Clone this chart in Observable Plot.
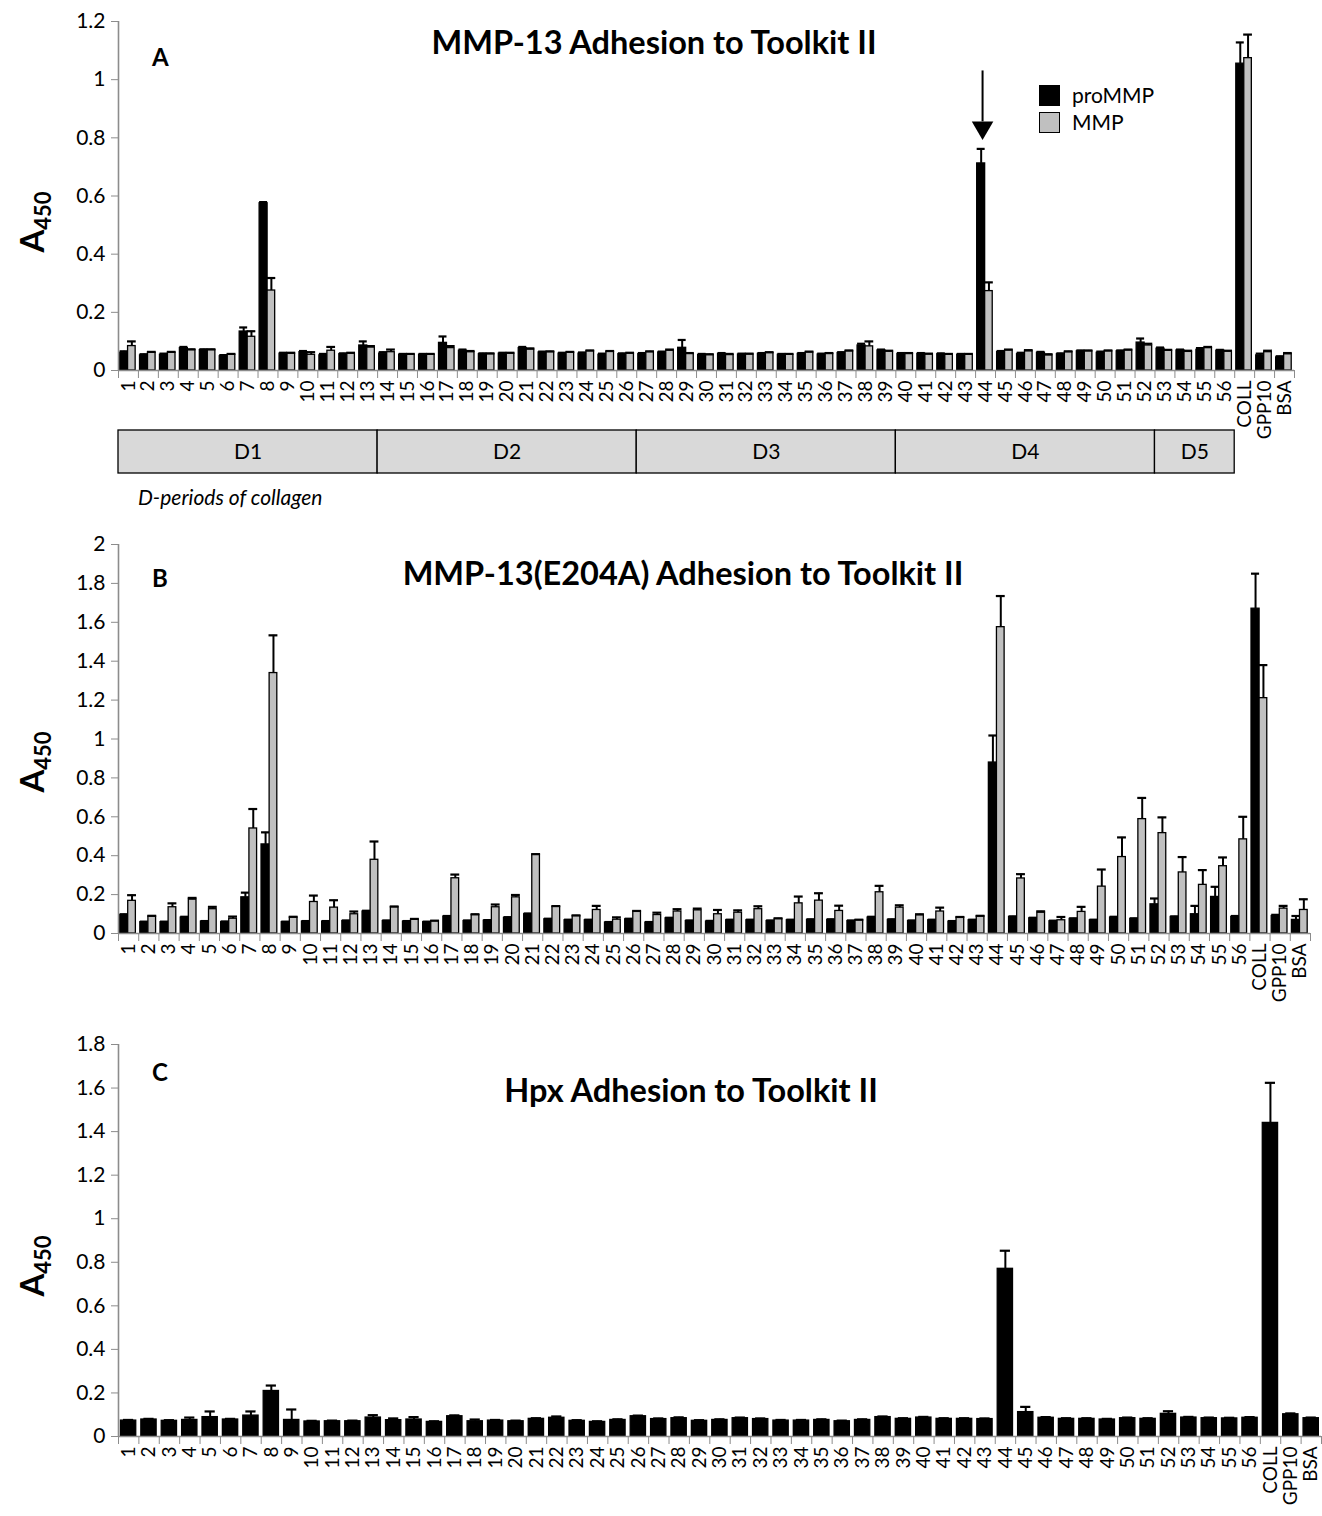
<!DOCTYPE html>
<html><head><meta charset="utf-8">
<script src="https://cdn.jsdelivr.net/npm/d3@7"></script>
<script src="https://cdn.jsdelivr.net/npm/@observablehq/plot@0.6"></script>
<style>
body{margin:0;background:#fff;}
#wrap{position:relative;width:1322px;height:1516px;font-family:Lato,"Open Sans",sans-serif;overflow:hidden;background:#fff}
#wrap svg{position:absolute;left:0;overflow:visible}
.t{position:absolute;white-space:nowrap;color:#000;line-height:1}
.yl{position:absolute;white-space:nowrap;font-weight:bold;font-size:33px;transform:translate(-50%,-50%) rotate(-90deg);line-height:1}
.yl sub{font-size:22px;vertical-align:-7px}
.sq{position:absolute;width:21px;height:21px;border:1.5px solid #000;box-sizing:border-box}
</style></head><body><div id="wrap"></div>
<script>
const cats = ["1","2","3","4","5","6","7","8","9","10","11","12","13","14","15","16","17","18","19","20",
"21","22","23","24","25","26","27","28","29","30","31","32","33","34","35","36","37","38","39","40",
"41","42","43","44","45","46","47","48","49","50","51","52","53","54","55","56","COLL","GPP10","BSA"];

// Panel A: MMP-13
const aPro = [0.061,0.052,0.054,0.077,0.070,0.049,0.134,0.575,0.058,0.063,0.052,0.056,0.086,0.058,0.054,0.054,0.095,0.068,0.056,0.058,
0.077,0.062,0.058,0.058,0.054,0.056,0.056,0.062,0.078,0.053,0.057,0.055,0.057,0.054,0.057,0.055,0.060,0.086,0.069,0.057,
0.057,0.056,0.054,0.712,0.063,0.056,0.061,0.056,0.066,0.061,0.066,0.096,0.075,0.069,0.071,0.068,1.055,0.052,0.045];
const aProErr = [0.005,0.004,0.004,0.004,0.003,0.004,0.014,0.004,0.003,0.004,0.005,0.003,0.014,0.005,0.003,0.003,0.022,0.004,0.003,0.003,
0.004,0.003,0.003,0.004,0.004,0.003,0.004,0.003,0.027,0.004,0.003,0.003,0.003,0.003,0.003,0.003,0.003,0.006,0.003,0.003,
0.003,0.003,0.003,0.050,0.004,0.005,0.003,0.003,0.003,0.004,0.003,0.014,0.004,0.003,0.006,0.003,0.073,0.006,0.004];
const aMmp = [0.084,0.061,0.061,0.070,0.070,0.054,0.116,0.275,0.058,0.054,0.068,0.058,0.079,0.063,0.054,0.054,0.077,0.063,0.056,0.058,
0.072,0.063,0.061,0.066,0.064,0.058,0.063,0.068,0.057,0.053,0.053,0.055,0.060,0.054,0.062,0.057,0.066,0.083,0.065,0.057,
0.055,0.054,0.054,0.273,0.069,0.066,0.052,0.063,0.066,0.066,0.069,0.086,0.068,0.064,0.077,0.065,1.074,0.063,0.056];
const aMmpErr = [0.016,0.003,0.003,0.003,0.003,0.003,0.019,0.043,0.003,0.009,0.013,0.003,0.005,0.009,0.003,0.003,0.007,0.004,0.003,0.003,
0.004,0.003,0.003,0.003,0.003,0.003,0.003,0.004,0.003,0.003,0.004,0.003,0.003,0.003,0.003,0.003,0.003,0.017,0.003,0.003,
0.003,0.003,0.003,0.030,0.003,0.004,0.004,0.003,0.003,0.003,0.003,0.006,0.003,0.004,0.004,0.003,0.081,0.005,0.004];

// Panel B: MMP-13(E204A)
const bPro = [0.095,0.058,0.058,0.082,0.061,0.058,0.186,0.458,0.058,0.061,0.061,0.064,0.113,0.064,0.061,0.058,0.087,0.064,0.066,0.080,
0.099,0.073,0.068,0.068,0.056,0.073,0.056,0.078,0.064,0.061,0.068,0.068,0.064,0.068,0.070,0.070,0.064,0.082,0.070,0.064,
0.068,0.061,0.068,0.879,0.085,0.078,0.063,0.075,0.068,0.082,0.075,0.150,0.085,0.099,0.188,0.085,1.670,0.090,0.070];
const bProErr = [0.004,0.003,0.003,0.004,0.003,0.004,0.024,0.062,0.003,0.003,0.003,0.003,0.004,0.003,0.003,0.003,0.003,0.003,0.003,0.004,
0.004,0.003,0.003,0.003,0.003,0.003,0.003,0.003,0.003,0.004,0.003,0.003,0.003,0.003,0.003,0.003,0.003,0.004,0.003,0.003,
0.003,0.003,0.003,0.139,0.003,0.003,0.003,0.003,0.003,0.004,0.003,0.030,0.003,0.043,0.052,0.005,0.180,0.006,0.020];
const bMmp = [0.168,0.087,0.135,0.174,0.125,0.076,0.540,1.339,0.082,0.162,0.133,0.099,0.379,0.135,0.071,0.063,0.284,0.095,0.135,0.186,
0.405,0.137,0.090,0.121,0.071,0.113,0.095,0.113,0.119,0.099,0.107,0.125,0.075,0.155,0.169,0.116,0.068,0.212,0.133,0.094,
0.113,0.082,0.088,1.575,0.283,0.107,0.068,0.111,0.241,0.393,0.588,0.516,0.314,0.250,0.346,0.484,1.210,0.128,0.121];
const bMmpErr = [0.029,0.004,0.020,0.009,0.012,0.011,0.100,0.194,0.004,0.033,0.038,0.014,0.094,0.004,0.004,0.003,0.019,0.004,0.014,0.012,
0.003,0.004,0.003,0.021,0.012,0.003,0.012,0.012,0.009,0.022,0.012,0.015,0.003,0.035,0.038,0.027,0.003,0.033,0.012,0.005,
0.020,0.003,0.003,0.160,0.022,0.007,0.017,0.026,0.088,0.101,0.109,0.081,0.079,0.076,0.045,0.116,0.170,0.014,0.055];

// Panel C: Hpx
const cHpx = [0.073,0.078,0.072,0.076,0.089,0.078,0.096,0.209,0.076,0.069,0.070,0.070,0.087,0.075,0.078,0.067,0.093,0.070,0.073,0.070,
0.081,0.086,0.072,0.067,0.076,0.093,0.080,0.084,0.072,0.076,0.084,0.080,0.073,0.073,0.076,0.070,0.076,0.089,0.081,0.087,
0.081,0.081,0.080,0.770,0.112,0.086,0.081,0.081,0.078,0.084,0.081,0.104,0.087,0.084,0.083,0.086,1.440,0.102,0.084];
const cHpxErr = [0.003,0.003,0.003,0.011,0.026,0.003,0.019,0.025,0.048,0.003,0.003,0.003,0.011,0.008,0.011,0.003,0.004,0.008,0.003,0.003,
0.003,0.006,0.003,0.003,0.003,0.003,0.003,0.004,0.003,0.003,0.003,0.003,0.003,0.003,0.003,0.003,0.003,0.003,0.003,0.003,
0.003,0.003,0.003,0.083,0.024,0.003,0.003,0.003,0.003,0.003,0.003,0.012,0.003,0.003,0.003,0.003,0.184,0.004,0.003];

const yTicksA = [0,0.2,0.4,0.6,0.8,1,1.2];
const yTicksB = [0,0.2,0.4,0.6,0.8,1,1.2,1.4,1.6,1.8,2];
const yTicksC = [0,0.2,0.4,0.6,0.8,1,1.2,1.4,1.6,1.8];

const dLabels = ["D1","D2","D3","D4","D5"];
const dStart = [0,13,26,39,52];
const dEnd = [13,26,39,52,56];

const arrowCat = "44";
const arrowFrom = 1.03, arrowTo = 0.815;

const fmt = d => d === 0 ? "0" : String(Math.round(d*10)/10);
const wrap = document.getElementById("wrap");

function seriesMarks(vals, errs, x1off, x2off, fill, capHalf) {
  const rows = cats.map((c,i)=>({i, v: vals[i], e: errs[i]}));
  const cx = (x1off + x2off)/2;
  return [
    Plot.rectY(rows, {x1: d=>d.i+x1off, x2: d=>d.i+x2off, y: "v", fill, stroke: "#000", strokeWidth: 1.3}),
    Plot.ruleX(rows, {x: d=>d.i+cx, y1: "v", y2: d=>d.v+d.e, stroke: "#000", strokeWidth: 2}),
    Plot.ruleY(rows, {y: d=>d.v+d.e, x1: d=>d.i+cx-capHalf, x2: d=>d.i+cx+capHalf, stroke: "#000", strokeWidth: 2.2})
  ];
}

function panel(o) {
  const n = cats.length;
  const marks = [
    ...o.series,
    Plot.ruleY([0], {stroke: "#8c8c8c", strokeWidth: 1.6}),
    Plot.ruleX([0], {stroke: "#8c8c8c", strokeWidth: 1.6}),
    Plot.axisY({ticks: o.yticks, tickSize: 7, tickPadding: 6, fontSize: 21, stroke: "#8c8c8c", tickFormat: fmt, label: null}),
    Plot.axisX({ticks: d3.range(0, n+1), tickSize: 8, stroke: "#8c8c8c", tickFormat: () => "", label: null}),
    Plot.axisX({ticks: cats.map((c,i)=>i+0.5), tickSize: 0, tickPadding: 10, tickRotate: -90, fontSize: 19,
      tickFormat: d => cats[Math.floor(d)], label: null}),
    ...(o.extra || [])
  ];
  const svg = Plot.plot({
    width: 1322, height: o.height,
    marginTop: o.mt, marginBottom: o.mb, marginLeft: 118, marginRight: o.mr,
    style: {fontFamily: "Lato, 'Open Sans', sans-serif", color: "#000", background: "transparent"},
    x: {type: "linear", domain: [0, n]},
    y: {domain: [0, o.ymax]},
    marks
  });
  svg.style.top = o.top + "px";
  wrap.appendChild(svg);
}

const ai = cats.indexOf(arrowCat);
panel({
  top: 0, height: 430, mt: 21, mb: 60, mr: 28, ymax: 1.2, yticks: yTicksA,
  series: [...seriesMarks(aPro, aProErr, 0.08, 0.48, "#000", 0.2), ...seriesMarks(aMmp, aMmpErr, 0.48, 0.86, "#c0c0c0", 0.22)],
  extra: [
    Plot.ruleX([ai], {x: d=>d+0.35, y1: arrowFrom, y2: arrowTo+0.04, stroke: "#000", strokeWidth: 2}),
    Plot.dot([ai], {x: d=>d+0.35, y: arrowTo+0.02, symbol: "triangle", rotate: 180, r: 8, fill: "#000", stroke: "none"})
  ]
});

// D-period strip
{
  const rows = dLabels.map((l,i)=>({l, s: dStart[i], e: dEnd[i]}));
  const svg = Plot.plot({
    width: 1322, height: 43, marginTop: 0, marginBottom: 0, marginLeft: 118, marginRight: 28,
    style: {fontFamily: "Lato, 'Open Sans', sans-serif", color: "#000", background: "transparent"},
    x: {type: "linear", domain: [0, cats.length], axis: null},
    marks: [
      Plot.rect(rows, {x1: "s", x2: "e", fill: "#d9d9d9", stroke: "#000", strokeWidth: 1.3}),
      Plot.text(rows, {x: d=>(d.s+d.e)/2, text: "l", fontSize: 21, frameAnchor: "middle", fill: "#000"})
    ]
  });
  svg.style.top = "430px";
  wrap.appendChild(svg);
}

panel({
  top: 520, height: 500, mt: 24, mb: 87, mr: 12, ymax: 2, yticks: yTicksB,
  series: [...seriesMarks(bPro, bProErr, 0.08, 0.48, "#000", 0.2), ...seriesMarks(bMmp, bMmpErr, 0.48, 0.86, "#c0c0c0", 0.22)]
});

panel({
  top: 1020, height: 496, mt: 24, mb: 80, mr: 1, ymax: 1.8, yticks: yTicksC,
  series: seriesMarks(cHpx, cHpxErr, 0.12, 0.87, "#000", 0.25)
});

// text overlays
function addText(html, css, cls="t") {
  const d = document.createElement("div");
  d.className = cls; d.innerHTML = html;
  Object.assign(d.style, css);
  wrap.appendChild(d);
}
addText("MMP-13 Adhesion to Toolkit II", {left: "654px", top: "42px", transform: "translate(-50%,-50%)", fontSize: "32.5px", fontWeight: "bold"});
addText("MMP-13(E204A) Adhesion to Toolkit II", {left: "683px", top: "573px", transform: "translate(-50%,-50%)", fontSize: "32.5px", fontWeight: "bold"});
addText("Hpx Adhesion to Toolkit II", {left: "691px", top: "1090px", transform: "translate(-50%,-50%)", fontSize: "32.5px", fontWeight: "bold"});
addText("A", {left: "152px", top: "45px", fontSize: "24px", fontWeight: "bold"});
addText("B", {left: "152px", top: "566px", fontSize: "24px", fontWeight: "bold"});
addText("C", {left: "152px", top: "1060px", fontSize: "24px", fontWeight: "bold"});
addText("A<sub>450</sub>", {left: "34px", top: "222px"}, "yl");
addText("A<sub>450</sub>", {left: "34px", top: "762px"}, "yl");
addText("A<sub>450</sub>", {left: "34px", top: "1266px"}, "yl");
addText("D-periods of collagen", {left: "138px", top: "486px", fontSize: "21px", fontStyle: "italic"});
// legend
const s1 = document.createElement("div"); s1.className = "sq"; Object.assign(s1.style, {left: "1039px", top: "85px", background: "#000"}); wrap.appendChild(s1);
const s2 = document.createElement("div"); s2.className = "sq"; Object.assign(s2.style, {left: "1039px", top: "112px", background: "#c0c0c0"}); wrap.appendChild(s2);
addText("proMMP", {left: "1072px", top: "84px", fontSize: "21px"});
addText("MMP", {left: "1072px", top: "111px", fontSize: "21px"});
</script></body></html>
